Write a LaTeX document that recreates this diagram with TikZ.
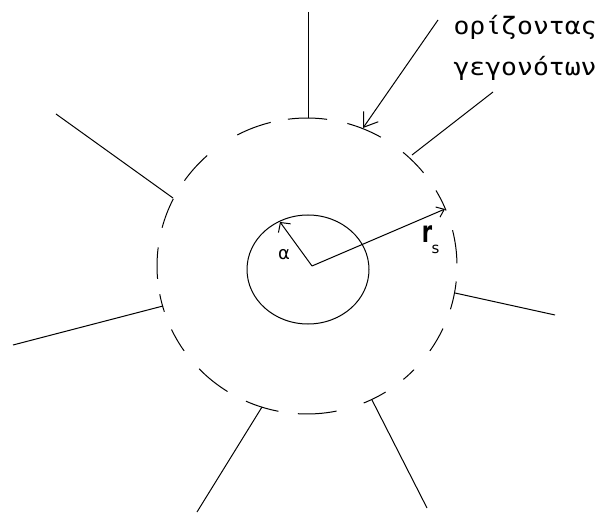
\documentclass[tikz,border=0pt]{standalone}
\usepackage{fontspec}
\setmainfont{DejaVu Sans}
\newfontfamily\labelmono{DejaVu Sans Mono}
\usetikzlibrary{arrows.meta}
\begin{document}
\begin{tikzpicture}[x=1pt,y=1pt,line width=1pt,
  ray/.style={draw=black},
  hdash/.style={draw=black},
  lbl/.style={inner sep=0pt,xscale=1.1,font=\labelmono\fontsize{24}{24}\selectfont}]
\useasboundingbox (0,0) rectangle (601,522);
\coordinate (C) at (307,256);
% dashed event horizon drawn as arcs
\foreach \a/\b in {82.3/97.3, 60.5/74.4, 39/50.2, 22/30.7, 1/14, -17/-6, -35/-25, -50/-44.5, -67.8/-58.4, -93.5/-78.6, -114/-101, -136/-122, -154.6/-145, -169/-162, 172.8/185, 153/165, 131.7/144.8, 104/117.7}
  \draw[hdash] ([shift={(\a:150 and 148)}]C) arc[start angle=\a, end angle=\b, x radius=150, y radius=148];
% inner circle
\coordinate (I) at (308,252.5);
\draw (I) ellipse [x radius=61, y radius=54.5];
% radial lines
\coordinate (t1) at (308,510); \coordinate (h1) at (308,404);
\coordinate (t2) at (493,430); \coordinate (h2) at (412,367);
\coordinate (t4) at (555,207); \coordinate (h4) at (455,229);
\coordinate (t5) at (427,14);  \coordinate (h5) at (372,122);
\coordinate (t6) at (197,10);  \coordinate (h6) at (262,115);
\coordinate (t7) at (13,177);  \coordinate (h7) at (163,216);
\coordinate (t8) at (56,408);  \coordinate (h8) at (173,324);
\foreach \i in {1,2,4,5,6,7,8} \draw[ray] (t\i) -- (h\i);
% label arrow
\coordinate (t3) at (438,502); \coordinate (h3) at (363,394);
\draw[-{Straight Barb[length=13pt,width=18pt]}] (t3) -- (h3);
% radii
\coordinate (O) at (312,256);
\coordinate (A) at (280,300);
\coordinate (R) at (445,313);
\draw[-{Straight Barb[length=7pt,width=15pt]}] (O) -- (A);
\draw[-{Straight Barb[length=7pt,width=11pt]}] (O) -- (R);
\node[inner sep=0pt,font=\fontsize{18}{18}\selectfont] (alpha) at (284,267) {α};
\node[inner sep=0pt,anchor=base,xscale=0.7,font=\fontsize{30}{30}\selectfont\bfseries] (r) at (427,279) {r};
\node[inner sep=0pt,anchor=north west,font=\fontsize{15}{15}\selectfont] (s) at (431,277) {s};
% text
\node[lbl,anchor=base west] (l1) at (453,487) {ορίζοντας};
\node[lbl,anchor=base west] (l2) at (453,446) {γεγονότων};
\end{tikzpicture}
\end{document}
